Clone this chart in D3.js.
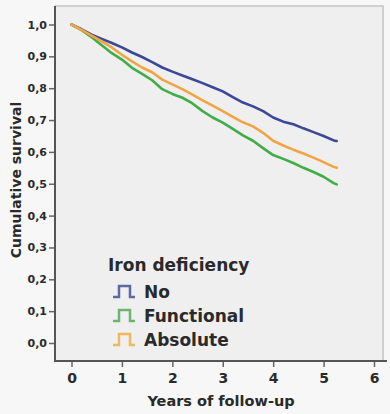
<!DOCTYPE html>
<html>
<head>
<meta charset="utf-8">
<script src="https://cdn.jsdelivr.net/npm/d3@7"></script>
<style>
  html, body { margin: 0; padding: 0; background: #f7f7f7; }
  svg { display: block; }
  text { font-family: "DejaVu Sans", sans-serif; font-weight: bold; fill: #2a2a2a; }
</style>
</head>
<body>
<svg id="chart" width="390" height="414"></svg>
<script>
// Follow-up time (years) at which survival was read
const years = [0, 0.2, 0.4, 0.6, 0.8, 1.0, 1.2, 1.4, 1.6, 1.8, 2.0, 2.2, 2.4, 2.6,
               2.8, 3.0, 3.2, 3.4, 3.6, 3.8, 4.0, 4.2, 4.4, 4.6, 4.8, 5.0, 5.2, 5.26];

// Cumulative survival per iron-deficiency group
const survivalNo = [1.0, 0.985, 0.968, 0.955, 0.942, 0.928, 0.912, 0.898, 0.882, 0.865,
                    0.852, 0.840, 0.828, 0.816, 0.803, 0.790, 0.772, 0.755, 0.743, 0.728,
                    0.708, 0.695, 0.687, 0.674, 0.662, 0.650, 0.636, 0.634];
const survivalFunctional = [1.0, 0.982, 0.960, 0.935, 0.910, 0.890, 0.864, 0.845, 0.825, 0.797,
                    0.782, 0.770, 0.752, 0.728, 0.708, 0.692, 0.672, 0.652, 0.635, 0.612,
                    0.590, 0.578, 0.565, 0.550, 0.537, 0.522, 0.502, 0.498];
const survivalAbsolute = [1.0, 0.983, 0.965, 0.947, 0.928, 0.905, 0.884, 0.865, 0.850, 0.827,
                    0.812, 0.797, 0.780, 0.762, 0.745, 0.728, 0.710, 0.693, 0.680, 0.660,
                    0.635, 0.620, 0.607, 0.595, 0.582, 0.568, 0.553, 0.550];

const groupNames = ["No", "Functional", "Absolute"];
const groupColors = ["#3b4897", "#3fad48", "#f2a443"];
const legendColors = ["#5b6aa6", "#6cb56f", "#f2b65c"];

const xTicks = [0, 1, 2, 3, 4, 5, 6];
const yTicks = [0, 0.1, 0.2, 0.3, 0.4, 0.5, 0.6, 0.7, 0.8, 0.9, 1.0];

const svg = d3.select("#chart");

const x = d3.scaleLinear().domain([0, 6]).range([71.5, 374]);
const y = d3.scaleLinear().domain([0, 1]).range([343, 24.5]);

// plot panel
const panel = { left: 55, top: 6, right: 383, bottom: 361 };
svg.append("rect")
  .attr("x", panel.left).attr("y", panel.top)
  .attr("width", panel.right - panel.left).attr("height", panel.bottom - panel.top)
  .attr("fill", "#efefef");
svg.append("path")
  .attr("d", `M${panel.left},${panel.top}H${panel.right}V${panel.bottom}`)
  .attr("fill", "none").attr("stroke", "#c4c4c4").attr("stroke-width", 1.5);

// y axis
const yAxis = svg.append("g")
  .attr("transform", `translate(${panel.left},0)`)
  .call(d3.axisLeft(y).tickValues(yTicks).tickSize(6).tickPadding(2)
    .tickFormat(d => d3.format(".1f")(d).replace(".", ",")));
yAxis.select(".domain").remove();
yAxis.selectAll(".tick line").attr("stroke", "#666").attr("stroke-width", 1.5);
yAxis.selectAll(".tick text")
  .attr("font-family", "Liberation Sans, sans-serif")
  .attr("font-size", 11).attr("fill", "#444");

// x axis
const xAxis = svg.append("g")
  .attr("transform", `translate(0,${panel.bottom})`)
  .call(d3.axisBottom(x).tickValues(xTicks).tickSize(6).tickPadding(6)
    .tickFormat(d3.format("d")));
xAxis.select(".domain").remove();
xAxis.selectAll(".tick line").attr("stroke", "#666").attr("stroke-width", 1.5);
xAxis.selectAll(".tick text")
  .attr("font-family", "Liberation Sans, sans-serif")
  .attr("font-size", 14).attr("fill", "#2a2a2a");

// axis lines
svg.append("line")
  .attr("x1", panel.left).attr("x2", panel.left)
  .attr("y1", panel.top).attr("y2", panel.bottom + 1)
  .attr("stroke", "#555").attr("stroke-width", 2);
svg.append("line")
  .attr("x1", panel.left - 1).attr("x2", panel.right + 4)
  .attr("y1", panel.bottom).attr("y2", panel.bottom)
  .attr("stroke", "#555").attr("stroke-width", 2);

// axis titles
svg.append("text")
  .attr("transform", "translate(21,180) rotate(-90)")
  .attr("text-anchor", "middle")
  .attr("font-size", 14)
  .text("Cumulative survival");
svg.append("text")
  .attr("x", 221).attr("y", 406)
  .attr("text-anchor", "middle")
  .attr("font-size", 14.5)
  .text("Years of follow-up");

// survival curves
const series = [survivalNo, survivalFunctional, survivalAbsolute];
const line = d3.line()
  .x((d, i) => x(years[i]))
  .y(d => y(d))
  .curve(d3.curveLinear);
[0, 1, 2].forEach(k => {
  svg.append("path")
    .datum(series[k])
    .attr("d", line)
    .attr("fill", "none")
    .attr("stroke", groupColors[k])
    .attr("stroke-width", 2.6)
    .attr("stroke-linejoin", "round")
    .attr("stroke-linecap", "round");
});

// legend
const legend = svg.append("g").attr("transform", "translate(108,0)");
legend.append("text")
  .attr("x", 0).attr("y", 271)
  .attr("font-size", 17)
  .text("Iron deficiency");
const itemY = [298, 322, 346];
groupNames.forEach((name, k) => {
  const base = itemY[k];
  const icon = `M5,${base - 1}H11V${base - 12}H22V${base - 1}H27`;
  legend.append("path")
    .attr("d", icon)
    .attr("fill", "none")
    .attr("stroke", legendColors[k])
    .attr("stroke-width", 2.5);
  legend.append("text")
    .attr("x", 36).attr("y", base)
    .attr("font-size", 17)
    .text(name);
});
</script>
</body>
</html>
